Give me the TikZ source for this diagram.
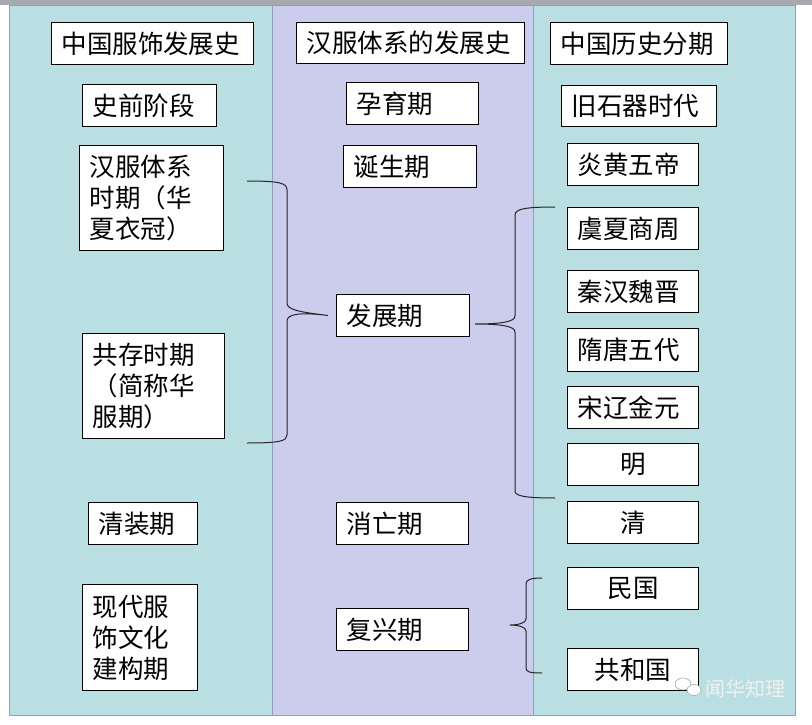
\documentclass[tikz,border=0pt]{standalone}
\usepackage{fontspec}
\setmainfont{Noto Sans CJK SC}
\usetikzlibrary{calc}
\definecolor{teal}{HTML}{B9DFE2}
\definecolor{lav}{HTML}{CCCCEC}
\definecolor{panelline}{HTML}{8FA3B5}
\definecolor{topbar}{HTML}{A8A8AF}
\begin{document}
\begin{tikzpicture}[x=1pt,y=-1pt,
  bx/.style={draw=black, fill=white, line width=1pt, anchor=north west,
    inner xsep=10pt, inner ysep=0pt, align=left,
    font=\fontsize{25.5}{31}\selectfont},
  cbx/.style={bx, align=center},
  panel/.style={draw=panelline, line width=0.8pt},
  brace/.style={draw=black!85, line width=1pt}]
\useasboundingbox (0,0) rectangle (812,725);
\fill[white] (0,0) rectangle (812,725);
% panels
\fill[topbar] (0,0) rectangle (812,5);
\draw[panel, fill=teal] (9,5) rectangle (272,715);
\draw[panel, fill=lav] (272,5) rectangle (533,715);
\draw[panel, fill=teal] (533,5) rectangle (795,715);
% left column
\node[bx, minimum width=202pt, minimum height=42pt, text width=182pt] (L0) at (51,22) {中国服饰发展史};
\node[bx, minimum width=134pt, minimum height=42pt, text width=114pt] (L1) at (82,84) {史前阶段};
\node[bx, minimum width=144pt, minimum height=105pt, text width=124pt] (L2) at (79,145) {汉服体系\\时期（华\\夏衣冠）};
\node[bx, minimum width=142pt, minimum height=105pt, text width=122pt] (L3) at (82,333) {共存时期\\（简称华\\服期）};
\node[bx, minimum width=109pt, minimum height=42pt, text width=89pt] (L4) at (88,502) {清装期};
\node[bx, minimum width=115pt, minimum height=106pt, text width=95pt] (L5) at (82,584) {现代服\\饰文化\\建构期};
% middle column
\node[bx, minimum width=228pt, minimum height=41pt, text width=208pt] (M0) at (296,22) {汉服体系的发展史};
\node[bx, minimum width=132pt, minimum height=42pt, text width=112pt] (M1) at (346,82) {孕育期};
\node[bx, minimum width=133pt, minimum height=42pt, text width=113pt] (M2) at (343,145) {诞生期};
\node[bx, minimum width=133pt, minimum height=42pt, text width=113pt] (M3) at (336,294) {发展期};
\node[bx, minimum width=132pt, minimum height=42pt, text width=112pt] (M4) at (336,502) {消亡期};
\node[bx, minimum width=132pt, minimum height=42pt, text width=112pt] (M5) at (336,608) {复兴期};
% right column
\node[bx, minimum width=177pt, minimum height=42pt, text width=157pt] (R0) at (550,22) {中国历史分期};
\node[bx, minimum width=155pt, minimum height=41pt, text width=135pt] (R1) at (561,85) {旧石器时代};
\node[bx, minimum width=131pt, minimum height=42pt, text width=111pt] (R2) at (567,143) {炎黄五帝};
\node[bx, minimum width=131pt, minimum height=42pt, text width=111pt] (R3) at (567,207) {虞夏商周};
\node[bx, minimum width=131pt, minimum height=42pt, text width=111pt] (R4) at (567,270) {秦汉魏晋};
\node[bx, minimum width=131pt, minimum height=43pt, text width=111pt] (R5) at (567,328) {隋唐五代};
\node[bx, minimum width=131pt, minimum height=42pt, text width=111pt] (R6) at (567,386) {宋辽金元};
\node[cbx, minimum width=131pt, minimum height=42pt, text width=111pt] (R7) at (567,443) {明};
\node[cbx, minimum width=131pt, minimum height=42pt, text width=111pt] (R8) at (567,501) {清};
\node[cbx, minimum width=131pt, minimum height=42pt, text width=111pt] (R9) at (567,567) {民国};
\node[cbx, minimum width=131pt, minimum height=42pt, text width=111pt] (R10) at (567,648) {共和国};
% brace end points
\coordinate (lbT) at (247,181);
\coordinate (lbB) at (247,443);
\coordinate (lbTip) at ($(M3.west)+(-8,0)$);
\coordinate (rbT) at (555,207);
\coordinate (rbB) at (555,498);
\coordinate (rbTip) at (475,324);
\coordinate (bbT) at (542,578);
\coordinate (bbB) at (542,673);
\coordinate (bbTip) at (510,625);
% left brace }
\draw[brace] (lbT) .. controls (280,181) and (287,183) .. (287,190) -- (287,303)
  .. controls (287,310) and (300,312) .. (lbTip)
  .. controls (300,312) and (287,314) .. (287,321) -- (287,435)
  .. controls (287,441) and (280,443) .. (lbB);
% right brace {
\draw[brace] (rbT) .. controls (525,207) and (515,209) .. (515,215) -- (515,316)
  .. controls (515,322) and (500,324) .. (rbTip)
  .. controls (500,324) and (515,326) .. (515,332) -- (515,491)
  .. controls (515,496) and (525,498) .. (rbB);
% bottom brace {
\draw[brace] (bbT) .. controls (530,578) and (526,580) .. (526,584) -- (526,619)
  .. controls (526,623) and (518,625) .. (bbTip)
  .. controls (518,625) and (526,627) .. (526,631) -- (526,668)
  .. controls (526,672) and (530,673) .. (bbB);
% watermark
\draw[gray!70, fill=white, line width=0.6pt] (683,684) ellipse (8pt and 6pt);
\draw[gray!70, fill=white, line width=0.6pt] (694,690) ellipse (7pt and 5.5pt);
\node[text=white!88!gray, font=\fontsize{20}{20}\selectfont, inner sep=0pt, anchor=west] (wm) at (705,689) {闻华知理};
\end{tikzpicture}
\end{document}
